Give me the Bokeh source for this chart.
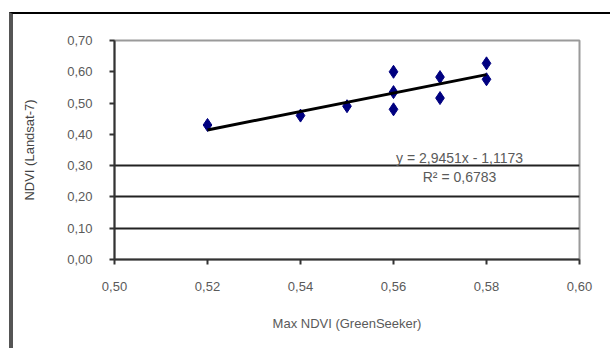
from bokeh.plotting import figure
from bokeh.models import (ColumnDataSource, FixedTicker, CustomJSTickFormatter,
                          Range1d, Label)
from bokeh.embed import file_html
from bokeh.resources import INLINE

# data
ndvi_greenseeker = [0.52, 0.54, 0.55, 0.56, 0.56, 0.56, 0.57, 0.57, 0.58, 0.58]
ndvi_landsat = [0.43, 0.46, 0.49, 0.60, 0.535, 0.48, 0.583, 0.516, 0.627, 0.576]
slope = 2.9451
intercept = -1.1173
eq_text = "y = 2,9451x - 1,1173"
r2_text = "R² = 0,6783"
x_title = "Max NDVI (GreenSeeker)"
y_title = "NDVI (Landsat-7)"
x_ticks = [0.50, 0.52, 0.54, 0.56, 0.58, 0.60]
y_ticks = [0.0, 0.1, 0.2, 0.3, 0.4, 0.5, 0.6, 0.7]
grid_ticks = [0.1, 0.2, 0.3]

FONT = "Liberation Sans"
GRAY = "#5a5a5a"

p = figure(width=601, height=336, output_backend="svg", toolbar_location=None,
           x_range=Range1d(0.50, 0.60), y_range=Range1d(0.0, 0.70),
           min_border_left=101, min_border_right=35, min_border_top=26,
           min_border_bottom=91)
p.styles = {"margin-left": "9px", "margin-top": "12px",
            "border-left": "4px solid #555555", "border-top": "2px solid #000000"}
p.background_fill_color = "white"
p.border_fill_color = "white"
p.outline_line_color = "#9a9a9a"
p.outline_line_width = 2

fmt = CustomJSTickFormatter(code="return tick.toFixed(2).replace('.', ',');")
for ax in (p.xaxis[0], p.yaxis[0]):
    ax.formatter = fmt
    ax.major_label_text_font = FONT
    ax.major_label_text_font_size = "13px"
    ax.major_label_text_color = GRAY
    ax.axis_label_text_font = FONT
    ax.axis_label_text_font_size = "13px"
    ax.axis_label_text_font_style = "normal"
    ax.axis_label_text_color = GRAY
    ax.axis_line_color = "#333333"
    ax.axis_line_width = 2
    ax.major_tick_line_color = "#333333"
    ax.major_tick_line_width = 2
    ax.major_tick_out = 5
    ax.major_tick_in = 0
    ax.minor_tick_line_color = None

p.xaxis.ticker = FixedTicker(ticks=x_ticks)
p.yaxis.ticker = FixedTicker(ticks=y_ticks)
p.yaxis.major_label_standoff = 17
p.xaxis.major_label_standoff = 17
p.xaxis.axis_label = x_title
p.xaxis.axis_label_standoff = 22
p.yaxis.axis_label = y_title
p.yaxis.axis_label_standoff = 27
p.yaxis.axis_label_text_color = "#444444"

p.xgrid.grid_line_color = None
p.ygrid.ticker = FixedTicker(ticks=grid_ticks)
p.ygrid.grid_line_color = "#222222"
p.ygrid.grid_line_width = 2

src = ColumnDataSource(dict(x=ndvi_greenseeker, y=ndvi_landsat))
p.scatter("x", "y", source=src, marker="diamond", size=13,
          fill_color="#000080", line_color="#000080")

x0, x1 = min(ndvi_greenseeker), max(ndvi_greenseeker)
p.line([x0, x1], [slope * x0 + intercept, slope * x1 + intercept],
       line_color="black", line_width=3)

p.add_layout(Label(x=0.5742, y=0.326, text=eq_text, text_font=FONT,
                   text_font_size="14px", text_color=GRAY, text_align="center",
                   text_baseline="middle"))
p.add_layout(Label(x=0.5742, y=0.265, text=r2_text, text_font=FONT,
                   text_font_size="14px", text_color=GRAY, text_align="center",
                   text_baseline="middle"))

open("out.html", "w").write(file_html(p, INLINE))
